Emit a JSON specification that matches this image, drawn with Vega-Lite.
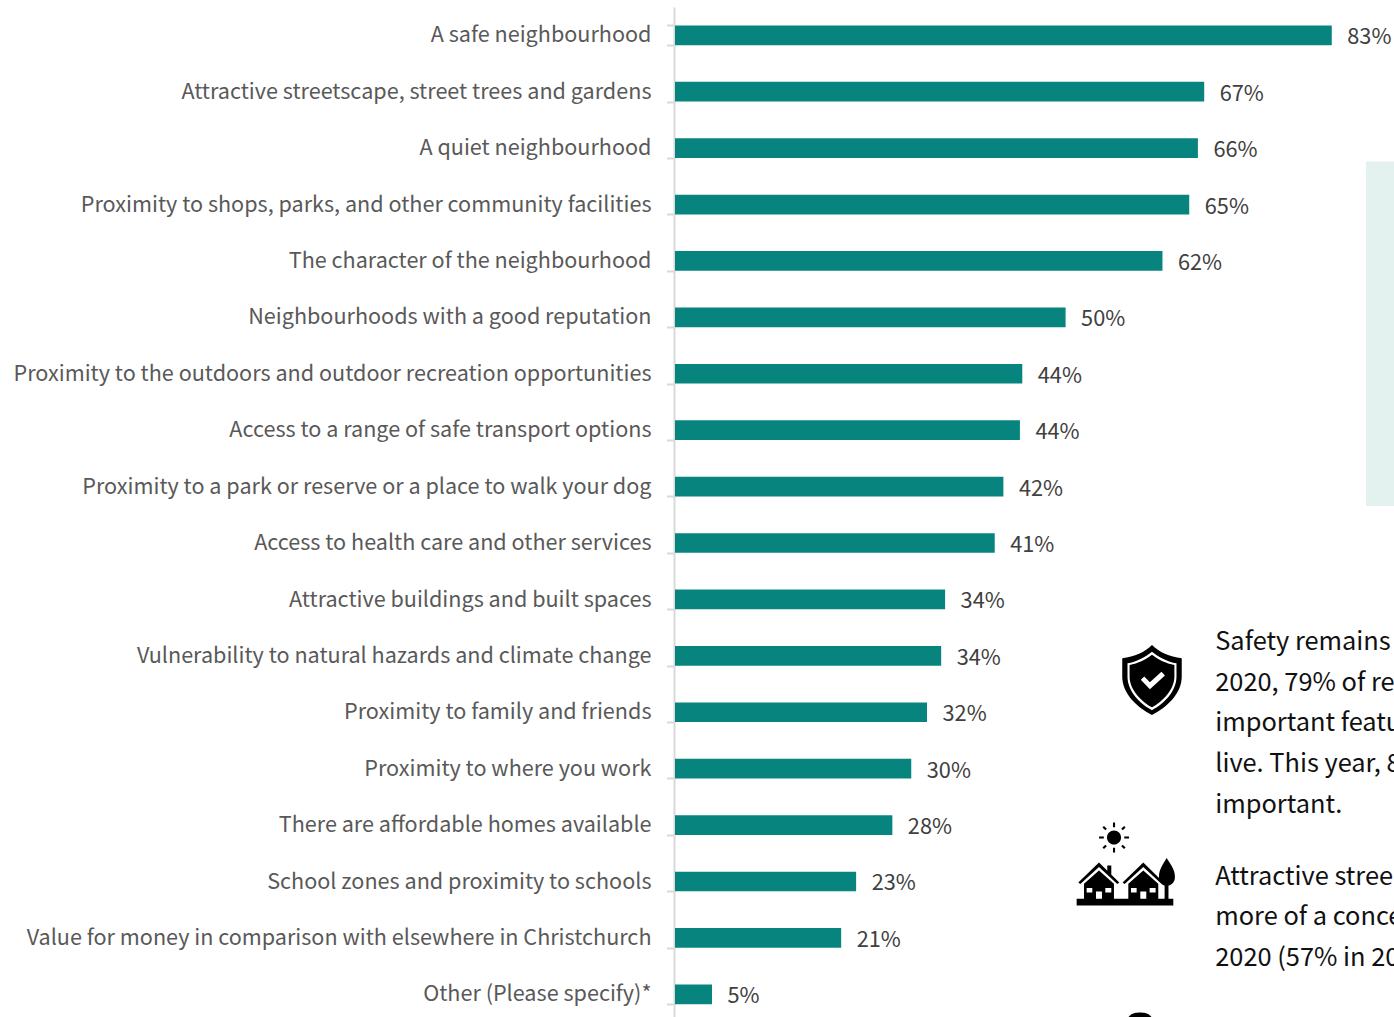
{
  "$schema": "https://vega.github.io/schema/vega-lite/v6.json",
  "width": 1394,
  "height": 1017,
  "padding": 0,
  "autosize": {"type": "none"},
  "background": "white",
  "view": {"stroke": null},
  "config": {"font": "Noto Sans CJK SC"},
  "datasets": {
    "features": [
      {"feature": "A safe neighbourhood", "share": 0.834},
      {"feature": "Attractive streetscape, street trees and gardens", "share": 0.672},
      {"feature": "A quiet neighbourhood", "share": 0.664},
      {"feature": "Proximity to shops, parks, and other community facilities", "share": 0.653},
      {"feature": "The character of the neighbourhood", "share": 0.619},
      {"feature": "Neighbourhoods with a good reputation", "share": 0.496},
      {"feature": "Proximity to the outdoors and outdoor recreation opportunities", "share": 0.441},
      {"feature": "Access to a range of safe transport options", "share": 0.438},
      {"feature": "Proximity to a park or reserve or a place to walk your dog", "share": 0.417},
      {"feature": "Access to health care and other services", "share": 0.406},
      {"feature": "Attractive buildings and built spaces", "share": 0.343},
      {"feature": "Vulnerability to natural hazards and climate change", "share": 0.338},
      {"feature": "Proximity to family and friends", "share": 0.32},
      {"feature": "Proximity to where you work", "share": 0.3},
      {"feature": "There are affordable homes available", "share": 0.276},
      {"feature": "School zones and proximity to schools", "share": 0.23},
      {"feature": "Value for money in comparison with elsewhere in Christchurch", "share": 0.211},
      {"feature": "Other (Please specify)*", "share": 0.047}
    ],
    "notes": [
      {"line": 0, "text": "Safety remains"},
      {"line": 1, "text": "2020, 79% of re"},
      {"line": 2, "text": "important featu"},
      {"line": 3, "text": "live. This year, 8"},
      {"line": 4, "text": "important."},
      {"line": 5.77, "text": "Attractive stree"},
      {"line": 6.77, "text": "more of a conce"},
      {"line": 7.77, "text": "2020 (57% in 20"}
    ]
  },
  "resolve": {"scale": {"y": "independent"}},
  "layer": [
    {
      "data": {"name": "features"},
      "encoding": {
        "y": {
          "field": "feature",
          "type": "nominal",
          "sort": null,
          "scale": {"range": [7.1, 1022.5], "paddingInner": 0.651, "paddingOuter": 0.3255},
          "axis": {
            "title": null,
            "orient": "left",
            "offset": -674,
            "domainColor": "#d9d9d9",
            "domainWidth": 2,
            "tickColor": "#d9d9d9",
            "tickWidth": 2,
            "tickSize": 7.5,
            "tickBand": "extent",
            "labelFontSize": 21.6,
            "labelColor": "#595959",
            "labelPadding": 15.5,
            "labelLimit": 700,
            "labelOffset": 0.6,
            "labelFont": "Noto Sans CJK SC"
          }
        },
        "x": {
          "field": "share",
          "type": "quantitative",
          "axis": null,
          "scale": {"domain": [0, 1], "range": [675, 1462.5]}
        }
      },
      "layer": [
        {"mark": {"type": "bar", "color": "#08847f"}},
        {
          "mark": {"type": "text", "align": "left", "baseline": "middle", "dx": 15.5, "dy": 2, "fontSize": 21.75, "color": "#404040", "font": "Noto Sans CJK SC"},
          "encoding": {"text": {"field": "share", "type": "quantitative", "format": ".0%"}}
        }
      ]
    },
    {
      "encoding": {
        "y": {
          "field": "line",
          "type": "quantitative",
          "axis": null,
          "scale": {"domain": [0, 7.77], "range": [641, 957], "nice": false, "zero": false}
        }
      },
      "layer": [
        {
          "data": {"values": [{"line": -11.79, "lineEnd": -3.32}]},
          "mark": {"type": "rect", "color": "#e3f2ee"},
          "encoding": {
            "x": {"datum": 0.8775, "type": "quantitative"},
            "x2": {"datum": 0.92},
            "y2": {"field": "lineEnd"}
          }
        },
        {
          "data": {"name": "notes"},
          "mark": {"type": "text", "align": "left", "baseline": "middle", "dy": 1, "fontSize": 25.4, "color": "#111111", "font": "Noto Sans CJK SC"},
          "encoding": {
            "x": {"datum": 0.686, "type": "quantitative"},
            "text": {"field": "text"}
          }
        },
        {
          "data": {"values": [{"line": 0.96}]},
          "mark": {
            "type": "point", "filled": true, "opacity": 1, "color": "black", "size": 4900,
            "shape": "M0,-1 C.2,-.8 .5,-.66 .85,-.62 L.85,-.1 C.85,.4 .4,.8 0,1 C-.4,.8 -.85,.4 -.85,-.1 L-.85,-.62 C-.5,-.66 -.2,-.8 0,-1Z M0,-.81 C-.2,-.65 -.45,-.52 -.7,-.48 L-.7,-.1 C-.7,.32 -.35,.68 0,.86 C.35,.68 .7,.32 .7,-.1 L.7,-.48 C.45,-.52 .2,-.65 0,-.81Z M0,-.72 C.18,-.58 .4,-.47 .64,-.43 L.64,-.1 C.64,.28 .3,.62 0,.78 C-.3,.62 -.64,.28 -.64,-.1 L-.64,-.43 C-.4,-.47 -.18,-.58 0,-.72Z M-.06,.26 L.37,-.13 L.27,-.24 L-.06,.06 L-.22,-.1 L-.32,-.01Z"
          },
          "encoding": {"x": {"datum": 0.6057, "type": "quantitative"}}
        },
        {
          "data": {"values": [{"line": 4.83}]},
          "mark": {
            "type": "point", "filled": true, "opacity": 1, "color": "black", "size": 900,
            "shape": "M-.47,0 A.47,.47 0 1,1 .47,0 A.47,.47 0 1,1 -.47,0Z M.68,-.07 L1,-.07 L1,.07 L.68,.07Z M-1,-.07 L-.68,-.07 L-.68,.07 L-1,.07Z M-.07,-1 L.07,-1 L.07,-.68 L-.07,-.68Z M-.07,.68 L.07,.68 L.07,1 L-.07,1Z M.48,-.58 L.58,-.48 L.77,-.67 L.67,-.77Z M-.58,-.48 L-.48,-.58 L-.67,-.77 L-.77,-.67Z M.48,.58 L.67,.77 L.77,.67 L.58,.48Z M-.48,.58 L-.58,.48 L-.77,.67 L-.67,.77Z"
          },
          "encoding": {"x": {"datum": 0.5575, "type": "quantitative"}}
        },
        {
          "data": {"values": [{"line": 5.92}]},
          "mark": {
            "type": "point", "filled": true, "opacity": 1, "color": "black", "size": 9344,
            "shape": "M-1,.352 L1,.352 L1,.49 L-1,.49Z M-.966,.014 L-.538,-.4 L-.117,.014 L-.159,.048 L-.538,-.303 L-.924,.048Z M-.366,-.338 L-.283,-.338 L-.283,-.145 L-.366,-.145Z M-.538,-.234 L-.228,.041 L-.228,.352 L-.848,.352 L-.848,.041Z M-.793,.131 L-.793,.221 L-.676,.221 L-.676,.131Z M-.6,.2 L-.6,.352 L-.476,.352 L-.476,.2Z M-.407,.131 L-.407,.221 L-.283,.221 L-.283,.131Z M-.049,.014 L.379,-.4 L.8,.014 L.758,.048 L.379,-.303 L-.007,.048Z M.379,-.234 L.689,.041 L.689,.352 L.069,.352 L.069,.041Z M.124,.131 L.124,.221 L.241,.221 L.241,.131Z M.317,.2 L.317,.352 L.441,.352 L.441,.2Z M.51,.131 L.51,.221 L.634,.221 L.634,.131Z M.862,-.49 C.95,-.35 1.034,-.25 1.034,-.1 C1.034,.02 .95,.083 .862,.083 C.77,.083 .703,.02 .703,-.1 C.703,-.25 .78,-.35 .862,-.49Z M.82,.05 L.9,.05 L.9,.36 L.82,.36Z"
          },
          "encoding": {"x": {"datum": 0.5714, "type": "quantitative"}}
        },
        {
          "data": {"values": [{"line": 9.31}]},
          "mark": {
            "type": "point", "filled": true, "opacity": 1, "color": "black", "size": 676,
            "shape": "M-1,0 C-.8,-.5 -.3,-.55 0,-.55 C.3,-.55 .8,-.5 1,0 L1,1 L-1,1Z"
          },
          "encoding": {"x": {"datum": 0.5905, "type": "quantitative"}}
        }
      ]
    }
  ]
}
